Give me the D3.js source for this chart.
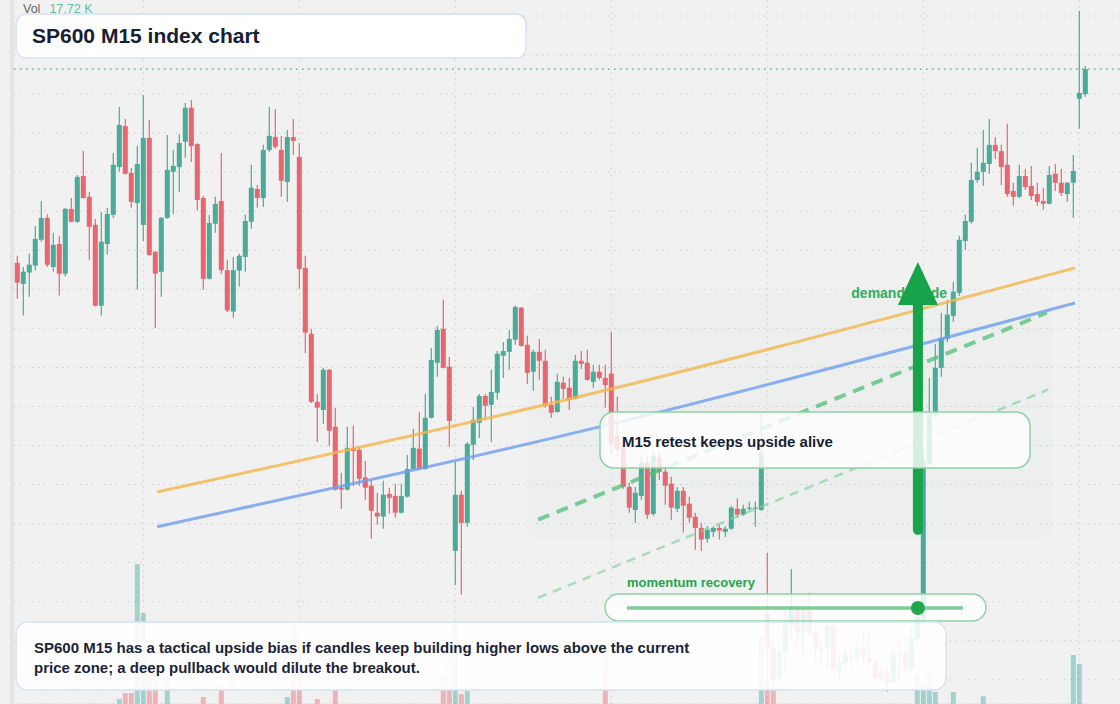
<!DOCTYPE html>
<html>
<head>
<meta charset="utf-8">
<script src="https://cdn.jsdelivr.net/npm/d3@7"></script>
<style>
  body { margin: 0; background: #f1f1f1; }
  svg { display: block; font-family: "Liberation Sans", Arial, sans-serif; }
</style>
</head>
<body>
<div id="chart"></div>
<script>
// M15 candles, index 0..178
const opens = [
  1276.8,1271.4,1274.3,1276.1,1282.7,1288.3,1275.7,1281.6,1274.0,1290.6,
  1287.3,1299.0,1293.7,1286.5,1265.8,1281.6,1289.1,1301.3,1311.8,1299.8,
  1292.1,1286.5,1308.8,1279.6,1274.5,1288.3,1300.1,1301.3,1307.8,1316.5,
  1307.2,1293.4,1272.7,1286.8,1292.6,1274.9,1264.3,1274.8,1278.3,1287.3,
  1295.7,1293.4,1305.7,1309.0,1305.7,1297.5,1309.0,1303.9,1275.5,1258.6,
  1241.2,1239.1,1249.4,1234.8,1219.2,1218.7,1229.4,1228.9,1221.8,1219.7,
  1212.8,1211.8,1217.6,1217.1,1212.8,1216.9,1224.0,1229.2,1224.0,1237.1,
  1251.2,1259.9,1250.2,1203.0,1217.4,1210.2,1230.2,1235.8,1242.7,1240.4,
  1243.5,1253.0,1254.0,1257.1,1265.3,1255.8,1248.9,1254.0,1251.7,1240.4,
  1238.6,1246.1,1244.8,1242.0,1251.7,1251.2,1246.3,1248.9,1247.3,1248.4,
  1232.5,1229.4,1219.4,1213.5,1217.1,1225.6,1212.5,1226.8,1223.3,1220.2,
  1213.8,1218.4,1215.1,1211.8,1208.9,1206.1,1207.9,1208.9,1207.9,1208.7,
  1213.8,1212.3,1213.8,1213.8,1213.5,1186.9,1178.2,1170.5,1176.9,1183.6,
  1188.2,1182.3,1187.9,1182.3,1178.2,1178.2,1183.8,1172.1,1174.4,1175.4,
  1175.6,1178.0,1175.6,1174.4,1170.5,1172.1,1169.3,1176.4,1176.7,1172.8,
  1180.5,1185.4,1225.3,1237.6,1249.9,1257.3,1263.2,1269.1,1282.4,1287.3,
  1298.0,1300.1,1302.1,1307.0,1305.4,1301.9,1295.2,1293.7,1299.0,1296.5,
  1294.4,1292.6,1291.9,1299.6,1297.3,1294.4,1297.3,1318.8,1320.0
];
const highs = [
  1278.6,1275.7,1279.1,1286.2,1292.6,1289.2,1284.5,1283.7,1290.8,1293.4,
  1299.3,1305.4,1294.9,1288.0,1289.8,1290.9,1304.9,1316.7,1313.6,1301.1,
  1306.7,1319.8,1313.4,1279.8,1288.5,1309.5,1305.7,1309.8,1317.7,1318.5,
  1307.4,1293.9,1289.1,1293.7,1304.9,1277.5,1278.3,1279.1,1289.1,1301.9,
  1296.7,1307.0,1316.7,1316.2,1309.3,1310.8,1313.6,1307.5,1278.6,1259.9,
  1243.2,1249.9,1249.6,1239.7,1223.0,1234.8,1235.1,1229.7,1226.1,1221.0,
  1217.9,1221.0,1219.2,1220.2,1220.2,1227.6,1234.3,1238.6,1243.2,1255.0,
  1260.6,1267.3,1252.7,1225.8,1218.4,1230.9,1239.9,1243.2,1243.2,1249.4,
  1254.2,1256.5,1259.6,1265.8,1265.5,1258.1,1254.5,1257.3,1254.5,1242.5,
  1248.4,1247.6,1247.3,1253.2,1254.2,1254.5,1250.7,1250.7,1250.7,1259.1,
  1242.5,1231.5,1220.5,1219.4,1227.6,1227.1,1228.4,1228.4,1224.8,1222.0,
  1219.4,1219.4,1216.9,1212.8,1210.2,1209.4,1209.4,1209.7,1209.4,1214.6,
  1216.4,1214.8,1215.6,1215.6,1238.6,1202.5,1180.3,1179.0,1188.0,1198.4,
  1189.5,1189.2,1192.3,1182.8,1180.3,1184.6,1184.9,1176.4,1178.2,1178.2,
  1180.3,1182.8,1183.3,1175.1,1173.4,1173.4,1177.7,1180.3,1181.0,1183.3,
  1187.9,1229.4,1247.3,1256.0,1264.0,1267.3,1271.9,1283.7,1289.1,1302.4,
  1306.2,1310.8,1313.6,1309.0,1307.0,1312.4,1297.3,1301.9,1300.8,1301.6,
  1297.3,1296.0,1301.6,1302.1,1300.8,1297.5,1304.4,1341.3,1327.2
];
const lows = [
  1267.6,1263.3,1268.1,1274.8,1282.2,1275.7,1274.5,1268.4,1273.3,1287.2,
  1287.0,1293.2,1277.6,1265.6,1263.3,1278.9,1288.3,1300.1,1299.4,1290.9,
  1269.9,1282.4,1278.6,1260.1,1268.1,1288.1,1289.3,1294.9,1303.7,1302.6,
  1290.1,1269.9,1272.5,1284.5,1273.9,1264.1,1262.7,1270.7,1274.5,1285.5,
  1290.9,1291.1,1305.2,1306.0,1293.7,1292.4,1304.4,1270.1,1253.7,1240.9,
  1230.9,1235.6,1229.9,1218.5,1213.8,1218.5,1219.7,1219.7,1216.1,1206.1,
  1209.7,1208.7,1212.5,1211.5,1212.6,1216.7,1223.8,1223.8,1223.8,1236.9,
  1247.6,1249.7,1229.7,1194.3,1191.8,1209.2,1226.3,1231.9,1236.6,1230.9,
  1241.7,1247.3,1249.4,1255.8,1255.3,1245.8,1244.0,1246.8,1239.7,1237.1,
  1238.4,1242.0,1239.1,1241.8,1249.6,1246.6,1244.8,1246.8,1239.7,1227.6,
  1227.1,1218.9,1212.8,1210.2,1216.1,1211.2,1212.0,1221.2,1214.8,1211.0,
  1213.0,1207.7,1210.2,1203.3,1203.0,1205.1,1206.6,1205.9,1206.6,1208.4,
  1211.5,1212.0,1213.3,1209.2,1213.3,1167.5,1168.0,1169.0,1172.1,1180.3,
  1177.7,1176.4,1181.3,1175.1,1173.9,1172.6,1172.1,1169.5,1172.6,1172.6,
  1173.1,1173.9,1172.6,1169.3,1169.5,1167.0,1169.0,1170.0,1172.1,1172.3,
  1179.8,1184.1,1224.8,1237.1,1247.6,1256.5,1261.7,1268.3,1280.1,1286.8,
  1297.3,1296.5,1299.6,1303.4,1296.7,1293.7,1291.4,1293.4,1295.5,1292.9,
  1291.4,1290.3,1291.7,1295.2,1293.9,1292.4,1288.3,1311.1,1319.3
];
const closes = [
  1271.7,1274.5,1276.3,1282.9,1288.3,1276.3,1281.4,1274.0,1290.6,1287.3,
  1298.8,1293.4,1286.0,1265.8,1282.2,1289.3,1301.9,1312.1,1299.6,1292.4,
  1302.1,1308.8,1278.8,1274.0,1288.3,1300.6,1301.6,1307.5,1316.5,1306.7,
  1292.9,1272.7,1287.0,1291.9,1274.9,1264.6,1274.9,1278.6,1287.5,1296.0,
  1293.4,1305.7,1309.3,1306.5,1297.8,1309.0,1308.0,1275.2,1258.9,1241.2,
  1239.7,1249.4,1233.8,1218.7,1218.7,1229.4,1228.6,1221.5,1219.2,1213.3,
  1211.8,1217.4,1216.6,1212.8,1217.1,1224.0,1229.4,1224.0,1237.1,1251.9,
  1259.6,1249.9,1236.3,1217.4,1210.2,1230.4,1236.6,1242.7,1240.2,1243.7,
  1253.5,1254.2,1257.3,1265.5,1255.5,1248.6,1254.0,1251.7,1240.2,1238.4,
  1246.3,1244.5,1241.7,1251.7,1250.9,1246.8,1248.9,1247.3,1245.5,1230.2,
  1228.9,1219.4,1214.1,1217.9,1225.6,1212.3,1227.4,1223.3,1219.7,1214.1,
  1218.4,1214.6,1211.5,1208.9,1205.9,1208.4,1208.9,1208.2,1208.7,1214.1,
  1212.3,1213.8,1214.1,1214.1,1228.1,1177.7,1170.0,1177.2,1184.4,1188.5,
  1182.1,1188.2,1182.1,1178.2,1177.7,1183.8,1172.6,1174.6,1176.4,1175.6,
  1178.0,1175.9,1174.4,1170.5,1171.8,1169.3,1176.4,1176.7,1173.1,1180.5,
  1186.1,1226.3,1238.4,1249.9,1257.6,1263.5,1269.4,1282.7,1287.5,1298.0,
  1300.1,1302.4,1307.0,1305.4,1301.3,1294.4,1293.7,1299.0,1296.2,1293.9,
  1292.4,1291.9,1299.3,1297.3,1294.7,1297.3,1300.3,1320.3,1326.4
];
// volume, thousands
const volumes = [
  0.12,0.1,0.15,0.1,0.12,0.18,0.1,0.12,0.15,0.1,
  0.12,0.1,0.15,0.18,0.12,0.1,0.15,2.2,4.9,4.9,
  62.0,40.3,12.0,9.7,0.15,12.4,0.12,0.1,0.15,0.12,
  0.1,3.1,0.12,0.15,8.4,0.12,0.1,0.15,0.12,0.1,
  0.12,0.15,0.1,0.12,0.15,3.1,36.3,28.4,0.15,0.12,
  2.2,0.1,0.12,6.2,0.12,0.1,0.15,0.12,0.1,0.15,
  0.12,0.1,0.12,0.15,0.1,0.12,0.15,0.1,0.12,0.15,
  0.12,12.8,20.8,36.8,4.4,5.8,0.12,0.1,0.15,0.12,
  0.1,0.12,0.15,0.1,0.12,0.15,0.1,0.12,0.15,0.1,
  0.12,0.1,0.15,0.12,0.1,0.12,0.15,0.1,20.4,0.15,
  0.12,0.1,0.15,0.12,0.1,0.15,0.12,0.1,0.12,0.15,
  0.1,0.12,0.15,0.1,0.12,0.15,0.1,0.12,0.1,0.15,
  0.12,0.1,0.12,0.15,30.1,10.6,8.0,0.12,0.15,0.1,
  0.12,0.15,0.1,0.12,0.15,0.1,0.12,0.15,0.1,0.12,
  0.15,0.1,0.12,0.15,0.1,0.12,0.15,0.1,0.12,0.15,
  13.3,9.7,13.7,5.3,0.12,0.15,5.3,0.12,0.1,0.15,
  0.12,3.5,0.1,0.12,0.15,0.1,0.12,0.15,0.1,0.12,
  0.15,0.1,0.12,0.15,0.1,0.12,21.7,17.72,0.12
];

const priceTicks = d3.range(1170, 1341, 10);
const timeTicks = [21, 47, 73, 99, 125, 151, 177];

// overlays: [candle index, price]
const orangeTrend = [[23.3, 1218.1], [99.8, 1244.8], [176.3, 1275.5]];
const blueTrend = [[23.3, 1209.2], [99.8, 1235.8], [176.3, 1266.5]];
const supportDash = [[86.8, 1211.0], [171.6, 1264.0]];
const lowerDash = [[86.8, 1191.0], [171.8, 1244.3]];
const demandZone = [84.9, 172.5, 1205.9, 1269.1];
const arrowMove = [150.1, 1208.4, 1277.0];

const width = 1120, height = 704;
const green = "#4baa98", red = "#e8666f";

const svg = d3.select("#chart").append("svg")
  .attr("width", width)
  .attr("height", height);

svg.append("rect").attr("width", width).attr("height", height).attr("fill", "#f1f1f1");
svg.append("rect").attr("x", 10).attr("width", 4).attr("height", height).attr("fill", "#e4e4e4");

const x = d3.scaleLinear().domain([0, opens.length - 1]).range([17.3, 1085.3]);
const y = d3.scaleLinear().domain([1163.8, 1344.1]).range([height, 0]);
const yVol = d3.scaleLinear().domain([0, 62.5]).range([height, 563]);

// grid
const grid = svg.append("g").attr("stroke", "#cdcdcd").attr("stroke-dasharray", "1.5,4.5");
grid.selectAll(".hgrid").data(priceTicks).enter().append("line")
  .attr("x1", 14).attr("x2", width)
  .attr("y1", d => y(d)).attr("y2", d => y(d));
grid.selectAll(".vgrid").data(timeTicks).enter().append("line")
  .attr("x1", d => x(d)).attr("x2", d => x(d))
  .attr("y1", 0).attr("y2", height);

// demand zone shade
svg.append("rect")
  .attr("x", x(demandZone[0]))
  .attr("y", y(demandZone[3]))
  .attr("width", x(demandZone[1]) - x(demandZone[0]))
  .attr("height", y(demandZone[2]) - y(demandZone[3]))
  .attr("rx", 14)
  .attr("fill", "rgba(40,170,90,0.025)");

// volume
const idx = d3.range(opens.length);
svg.append("g").selectAll("rect").data(idx).enter().append("rect")
  .attr("x", i => x(i) - 2.5)
  .attr("width", 5)
  .attr("y", i => yVol(volumes[i]))
  .attr("height", i => height - yVol(volumes[i]))
  .attr("fill", i => closes[i] >= opens[i] ? "rgba(38,160,150,0.38)" : "rgba(232,80,90,0.38)");

// last price line
svg.append("line")
  .attr("x1", 14).attr("x2", width)
  .attr("y1", y(closes[closes.length - 1])).attr("y2", y(closes[closes.length - 1]))
  .attr("stroke", "#3aa597").attr("stroke-width", 1.2).attr("stroke-dasharray", "1.5,4.5");

// candles
const candles = svg.append("g").selectAll("g").data(idx).enter().append("g");
candles.append("line")
  .attr("x1", i => x(i)).attr("x2", i => x(i))
  .attr("y1", i => y(highs[i])).attr("y2", i => y(lows[i]))
  .attr("stroke", i => closes[i] >= opens[i] ? green : red)
  .attr("stroke-width", 1.2);
candles.append("rect")
  .attr("x", i => x(i) - 2.5)
  .attr("width", 5)
  .attr("y", i => y(Math.max(opens[i], closes[i])))
  .attr("height", i => Math.max(1, Math.abs(y(opens[i]) - y(closes[i]))))
  .attr("fill", i => closes[i] >= opens[i] ? green : red);

// trend overlays
const line = d3.line().x(d => x(d[0])).y(d => y(d[1]));
const curve = d3.line().x(d => x(d[0])).y(d => y(d[1])).curve(d3.curveNatural);
svg.append("path").attr("d", curve(orangeTrend)).attr("fill", "none")
  .attr("stroke", "#f5b54a").attr("stroke-opacity", 0.8).attr("stroke-width", 3);
svg.append("path").attr("d", curve(blueTrend)).attr("fill", "none")
  .attr("stroke", "#6e9ef2").attr("stroke-opacity", 0.8).attr("stroke-width", 3);
svg.append("path").attr("d", line(supportDash)).attr("fill", "none")
  .attr("stroke", "#52bf77").attr("stroke-opacity", 0.75).attr("stroke-width", 4)
  .attr("stroke-dasharray", "12,8");
svg.append("path").attr("d", line(lowerDash)).attr("fill", "none")
  .attr("stroke", "#7fd19b").attr("stroke-opacity", 0.65).attr("stroke-width", 2.5)
  .attr("stroke-dasharray", "9,7");

// demand label + arrow
svg.append("text")
  .attr("x", x(139)).attr("y", y(1267.8))
  .attr("font-size", 14).attr("font-weight", 700).attr("fill", "#2fae5d")
  .text("demand stride");

const ax = x(arrowMove[0]);
const aBase = y(arrowMove[2]) + 43;
svg.append("line")
  .attr("x1", ax).attr("x2", ax)
  .attr("y1", y(arrowMove[1])).attr("y2", aBase)
  .attr("stroke", "#16a34a").attr("stroke-width", 10).attr("stroke-linecap", "round");
svg.append("path")
  .attr("d", `M${ax},${y(arrowMove[2])} L${ax + 20},${aBase} L${ax - 20},${aBase} Z`)
  .attr("fill", "#16a34a");

// retest callout
svg.append("rect")
  .attr("x", 600).attr("y", 412).attr("width", 430).attr("height", 56).attr("rx", 14)
  .attr("fill", "rgba(255,255,255,0.82)").attr("stroke", "#8ed3a4").attr("stroke-width", 1.5);
svg.append("text")
  .attr("x", 622).attr("y", 447)
  .attr("font-size", 15).attr("font-weight", 700).attr("fill", "#172133")
  .text("M15 retest keeps upside alive");

// momentum slider
svg.append("text")
  .attr("x", 627).attr("y", 587)
  .attr("font-size", 13).attr("font-weight", 700).attr("fill", "#22a650")
  .text("momentum recovery");
svg.append("rect")
  .attr("x", 605).attr("y", 594).attr("width", 381).attr("height", 27).attr("rx", 13.5)
  .attr("fill", "rgba(255,255,255,0.85)").attr("stroke", "#8ed3a4").attr("stroke-width", 1.5);
svg.append("line")
  .attr("x1", 627).attr("x2", 963).attr("y1", 608).attr("y2", 608)
  .attr("stroke", "#7ccd97").attr("stroke-width", 3.5);
svg.append("circle")
  .attr("cx", ax).attr("cy", 608).attr("r", 7).attr("fill", "#20a84f");

// summary box
svg.append("rect")
  .attr("x", 16).attr("y", 622).attr("width", 930).attr("height", 68).attr("rx", 12)
  .attr("fill", "rgba(255,255,255,0.9)").attr("stroke", "#d3e2f6").attr("stroke-width", 1.5);
const summary = svg.append("text")
  .attr("font-size", 15).attr("font-weight", 700).attr("fill", "#1b2537");
summary.append("tspan").attr("x", 34).attr("y", 653)
  .text("SP600 M15 has a tactical upside bias if candles keep building higher lows above the current");
summary.append("tspan").attr("x", 34).attr("y", 673)
  .text("price zone; a deep pullback would dilute the breakout.");

// title
svg.append("rect")
  .attr("x", 16).attr("y", 14).attr("width", 510).attr("height", 44).attr("rx", 10)
  .attr("fill", "rgba(255,255,255,0.95)").attr("stroke", "#d3e2f6").attr("stroke-width", 1.5);
svg.append("text")
  .attr("x", 32).attr("y", 43)
  .attr("font-size", 21).attr("font-weight", 700).attr("fill", "#152035")
  .text("SP600 M15 index chart");

const volLabel = svg.append("text").attr("x", 23).attr("y", 13).attr("font-size", 12.5);
volLabel.append("tspan").attr("fill", "#666").text("Vol");
volLabel.append("tspan").attr("dx", 9).attr("fill", "#5dbdad").text(volumes[volumes.length - 2] + " K");
</script>
</body>
</html>
